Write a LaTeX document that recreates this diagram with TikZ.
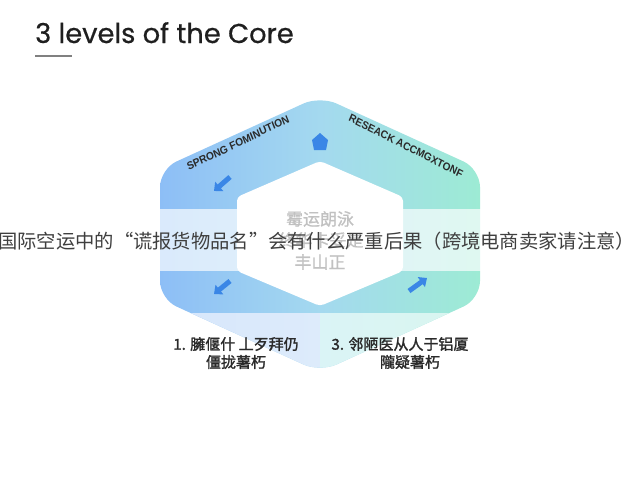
\documentclass[tikz,border=0pt]{standalone}
\usepackage{fontspec}
\setmainfont{Liberation Sans}
\newfontfamily\cjk{Noto Sans CJK SC}
\newfontfamily\cjkb[FakeBold=1.6]{Noto Sans CJK SC}
\newfontfamily\cjkc[FakeBold=0.8]{Noto Sans CJK SC}
\newfontfamily\titlefont[FakeBold=0.5]{Poppins}
\usetikzlibrary{arrows.meta}
\definecolor{ringL}{HTML}{8DBEF6}
\definecolor{ringM}{HTML}{A4D9EF}
\definecolor{ringR}{HTML}{9DEBD4}
\definecolor{lowL}{HTML}{D6E6FB}
\definecolor{lowL2}{HTML}{DDEBFB}
\definecolor{lowR}{HTML}{DAF4F6}
\definecolor{lowR2}{HTML}{D9F6EE}
\definecolor{iconblue}{HTML}{3A86E6}
\definecolor{txt}{HTML}{2A2A2A}
\begin{document}
\begin{tikzpicture}[x=1pt,y=-1pt,
  edgelabel/.style={font=\bfseries\fontsize{11}{11}\selectfont, text=txt, inner sep=0pt, xscale=0.92},
  botlabel/.style={font=\cjkb\fontsize{15}{18}\selectfont, text=txt, align=center, inner sep=0pt},
  centerlabel/.style={font=\cjkc\fontsize{17}{22}\selectfont, text=black!75, inner sep=0pt},
  iconarrow/.style={draw=iconblue, line width=5pt, -{Triangle[width=12pt,length=7pt]}}]
\useasboundingbox (0,0) rectangle (640,480);
\fill[white] (0,0) rectangle (640,480);
% ring
\shade[left color=ringL, right color=ringR, middle color=ringM, rounded corners=18pt]
  (320,96) -- (480,169) -- (480,299) -- (320,372) -- (160,299) -- (160,169) -- cycle;
\fill[white, rounded corners=4pt]
  (320,161) -- (403,197) -- (403,271) -- (320,306) -- (237,271) -- (237,197) -- cycle;
% lower light part
\begin{scope}
  \clip[rounded corners=18pt]
    (320,96) -- (480,169) -- (480,299) -- (320,372) -- (160,299) -- (160,169) -- cycle;
  \shade[left color=lowL, right color=lowL2] (150,313) rectangle (320,400);
  \shade[left color=lowR, right color=lowR2] (320,313) rectangle (490,400);
\end{scope}
% center text
\node[centerlabel] (c1) at (320,219) {霉运朗泳};
\node[centerlabel] (c2) at (321,240) {终华卡妥是};
\node[centerlabel] (c3) at (320,262) {丰山正};
% icons
\fill[iconblue] (320,133) -- (328,140) -- (326,150) -- (314,150) -- (312,140) -- cycle;
\coordinate (i1a) at (230,177); \coordinate (i1b) at (214,191);
\draw[iconarrow] (i1a) -- (i1b);
\coordinate (i2a) at (230,281); \coordinate (i2b) at (214,294);
\draw[iconarrow] (i2a) -- (i2b);
\coordinate (i3a) at (409,291); \coordinate (i3b) at (427,278);
\draw[iconarrow] (i3a) -- (i3b);
% edge labels
\node[edgelabel, rotate=24] (l1) at (238,143) {SPRONG FOMINUTION};
\node[edgelabel, rotate=-25] (l2) at (406,146) {RESEACK ACCMGXTONF};
% band
\fill[white, opacity=0.68] (0,209) rectangle (640,271);
% main overlay text
\node[anchor=west, inner sep=0pt, font=\cjk\fontsize{19.3}{22}\selectfont, text=txt!90] (main) at (-2,241)
  {国际空运中的“谎报货物品名”会有什么严重后果（跨境电商卖家请注意）};
% bottom labels
\node[botlabel] (b1) at (236,353) {1. 臃偃什 丄歹拜仍\\僵拢薯朽};
\node[botlabel] (b3) at (400,353) {3. 邻陋医从人于铝厦\\\hspace*{20pt}隴疑薯朽};
% title
\node[anchor=base west, inner sep=0pt, font=\titlefont\fontsize{27.3}{30}\selectfont, text=black!88] (title) at (35,43) {3 levels of the Core};
\draw[black!50, line width=1.5pt] (35,56) -- (72,56);
\end{tikzpicture}
\end{document}
